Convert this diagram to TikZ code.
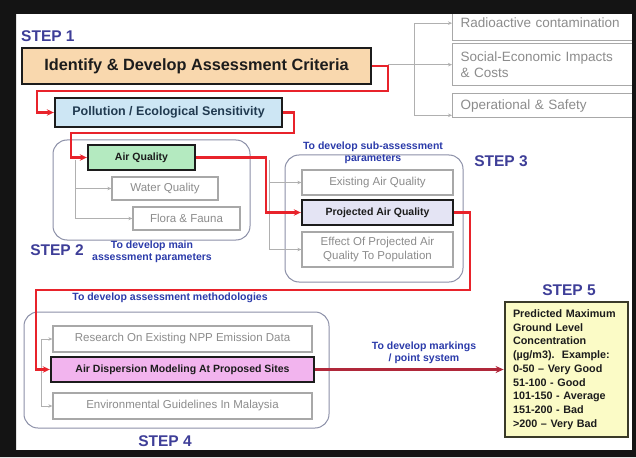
\documentclass[tikz,border=0pt]{standalone}
\usepackage{fontspec}
\setmainfont{Liberation Sans}
\usetikzlibrary{arrows.meta,calc}
\definecolor{peach}{HTML}{F9D8AE}
\definecolor{pollblue}{HTML}{CDE6F4}
\definecolor{aqgreen}{HTML}{B4EAC0}
\definecolor{projlav}{HTML}{E4E4F4}
\definecolor{disppink}{HTML}{F2B4EE}
\definecolor{syellow}{HTML}{FBFBC6}
\definecolor{sborder}{HTML}{3A3A28}
\definecolor{stepblue}{HTML}{3E3E98}
\definecolor{descblue}{HTML}{2B3BAA}
\definecolor{conred}{HTML}{E8232B}
\definecolor{darkred}{HTML}{B0283A}
\definecolor{greyline}{HTML}{A8A8A8}
\definecolor{greytext}{HTML}{8C8C8C}
\definecolor{groupline}{HTML}{8C90A8}
\definecolor{greyconn}{HTML}{B0B0B0}
\definecolor{boxblack}{HTML}{1C1C1C}
\definecolor{framecol}{HTML}{141414}
\definecolor{polltext}{HTML}{203A50}
\begin{document}
\begin{tikzpicture}[x=1pt,y=-1pt,
  mainbox/.style={draw=boxblack, line width=2.4pt, inner sep=0pt, text=boxblack, font=\bfseries\fontsize{10.5}{12}\selectfont},
  greybox/.style={draw=greyline, line width=1.3pt, inner sep=0pt, text=greytext, font=\fontsize{11.5}{13.5}\selectfont, align=center},
  rightbox/.style={draw=greyline, line width=1.3pt, inner xsep=8pt, inner ysep=0pt, text=greytext, font=\fontsize{13.5}{15.5}\selectfont, align=left, text width=180pt, anchor=north west},
  steplabel/.style={text=stepblue, font=\bfseries\fontsize{15.5}{17}\selectfont, inner sep=0pt},
  desc/.style={text=descblue, font=\bfseries\fontsize{10.5}{12}\selectfont, align=center, inner sep=0pt},
  redconn/.style={draw=conred, line width=2.2pt, -{Stealth[length=7pt,width=6.5pt]}},
  greyarrow/.style={draw=greyconn, line width=0.7pt, -{Stealth[length=4pt,width=3.5pt]}},
  groupbox/.style={draw=groupline, line width=1pt, rounded corners=14pt}
]
\useasboundingbox (0,0) rectangle (636,457);
\fill[white] (0,0) rectangle (636,457);

% group frames
\draw[groupbox] (53,140) rectangle (250,240);
\draw[groupbox] (285,155) rectangle (463,282);
\draw[groupbox] (24,312) rectangle (329,428);

% step labels and descriptions
\node[steplabel, anchor=west] (s1) at (21,36) {STEP 1};
\node[steplabel] (s2) at (57,250) {STEP 2};
\node[steplabel] (s3) at (501,161) {STEP 3};
\node[steplabel] (s4) at (165,441) {STEP 4};
\node[steplabel] (s5) at (569,290) {STEP 5};
\node[desc] (d2) at (152,252) {To develop main\\assessment parameters};
\node[desc] (d3) at (373,153) {To develop sub-assessment\\parameters};
\node[desc] (d4) at (170,298) {To develop assessment methodologies};
\node[desc] (d5) at (424,353) {To develop markings\\/ point system};

% main boxes
\node[mainbox, fill=peach, minimum width=349pt, minimum height=36pt, font=\bfseries\fontsize{16.3}{18}\selectfont] (crit) at (196.5,66) {Identify \& Develop Assessment Criteria};
\node[mainbox, fill=pollblue, minimum width=227pt, minimum height=29pt, text=polltext, font=\bfseries\fontsize{12.5}{14}\selectfont] (poll) at (168.5,112.5) {Pollution / Ecological Sensitivity};
\node[mainbox, fill=aqgreen, minimum width=107pt, minimum height=25pt] (aq) at (141.5,157.5) {Air Quality};
\node[mainbox, fill=projlav, minimum width=151pt, minimum height=25pt] (proj) at (377.5,212.5) {Projected Air Quality};
\node[mainbox, fill=disppink, minimum width=263pt, minimum height=25pt] (disp) at (182.5,369.5) {Air Dispersion Modeling At Proposed Sites};

% grey boxes
\node[greybox, minimum width=106pt, minimum height=23pt] (water) at (165,188.5) {Water Quality};
\node[greybox, minimum width=107pt, minimum height=23pt] (flora) at (186.5,218.5) {Flora \& Fauna};
\node[greybox, minimum width=151pt, minimum height=25pt] (exist) at (377.5,182.5) {Existing Air Quality};
\node[greybox, minimum width=151pt, minimum height=35pt] (effect) at (377.5,249.5) {Effect Of Projected Air\\Quality To Population};
\node[greybox, minimum width=259pt, minimum height=26pt] (research) at (182.5,339) {Research On Existing NPP Emission Data};
\node[greybox, minimum width=259pt, minimum height=26pt] (env) at (182.5,406) {Environmental Guidelines In Malaysia};

\node[rightbox, minimum height=35pt] (rad) at (452,5) {Radioactive contamination};
\node[rightbox, minimum height=42pt] (soc) at (452,43) {Social-Economic Impacts\\\& Costs};
\node[rightbox, minimum height=24pt] (ops) at (452,93) {Operational \& Safety};

% step 5 box
\node[draw=sborder, line width=2.8pt, fill=syellow, minimum width=123pt, minimum height=135pt, text width=107pt, inner xsep=8pt, inner ysep=0pt, align=left, text=boxblack, font=\bfseries\fontsize{10.8}{13.75}\selectfont] (res) at (566.5,369.5)
 {Predicted Maximum\\Ground Level\\Concentration\\(µg/m3).~~Example:\\0-50 – Very Good\\51-100 - Good\\101-150 - Average\\151-200 - Bad\\>200 – Very Bad};

% grey connectors
\coordinate (k1) at (388,91);
\coordinate (g1) at (414,64);
\draw[greyarrow] (k1 |- soc.west) -- (soc.west);
\draw[greyarrow] (g1) |- (rad.west);
\draw[greyarrow] (g1) |- ([yshift=3pt]ops.south west);
\coordinate (g2) at (75,160);
\draw[greyarrow] (g2) |- (water.west);
\draw[greyarrow] (g2) |- (flora.west);
\coordinate (g3) at (269,160);
\draw[greyarrow] (g3) |- (exist.west);
\draw[greyarrow] (g3) |- (effect.west);
\coordinate (g4) at (41,369);
\draw[greyarrow] (g4) |- (research.west);
\draw[greyarrow] (g4) |- (env.west);

% red connectors
\coordinate (k2) at (294,133);
\coordinate (k4) at (470,290);
\draw[redconn] (crit.east) -| (k1) -| ($(poll.west)+(-17,0)$) -- (poll.west);
\draw[redconn] (poll.east) -| (k2) -| ($(aq.west)+(-16,0)$) -- (aq.west);
\draw[redconn] (aq.east) -| ($(proj.west)+(-35,0)$) -- (proj.west);
\draw[redconn] (proj.east) -| (k4) -| ($(disp.west)+(-14,0)$) -- (disp.west);
\draw[draw=darkred, line width=3pt, -{Stealth[length=8pt,width=7pt]}] (disp.east) -- (res.west);

% outer frame
\fill[framecol, even odd rule] (0,0) rectangle (636,457) (16,14) rectangle (632,450);
\end{tikzpicture}
\end{document}
